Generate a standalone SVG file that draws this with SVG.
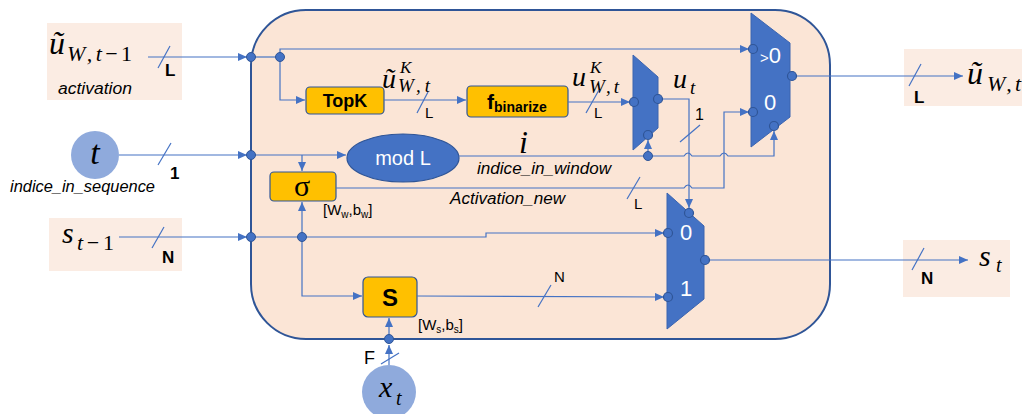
<svg xmlns="http://www.w3.org/2000/svg" width="1022" height="414" viewBox="0 0 1022 414">
<style>
.m{font-family:"Liberation Serif",serif;font-style:italic;fill:#000}
.s{font-family:"Liberation Sans",sans-serif;fill:#000}
.it{font-style:italic}
.b{font-weight:bold}
.w{fill:#fff}
.ln{fill:none;stroke:#4472c4;stroke-width:1.2}
.ar{marker-end:url(#ah)}
.sl{stroke:#4472c4;stroke-width:1.2}
.dot{fill:#4472c4;stroke:#2f5597;stroke-width:1}
.pin{fill:#4472c4;stroke:#2f5597;stroke-width:1.2}
.mux{fill:#4472c4;stroke:#3a64b0;stroke-width:1}
.box{fill:#fbece3}
.org{fill:#ffc000;stroke:#2f5597;stroke-width:1.2}
.inc{fill:#8faadc}
</style>
<defs>
<marker id="ah" markerWidth="9" markerHeight="8" refX="9" refY="4" orient="auto" markerUnits="userSpaceOnUse">
<path d="M0,0 L9,4 L0,8 z" fill="#4472c4"/>
</marker>
</defs>

<g id="frame">
<rect x="251" y="10" width="579" height="329" rx="55" ry="55" fill="#fbe5d6" stroke="#2f5597" stroke-width="2"/>
</g>

<g id="in-u">
<rect class="box" x="47" y="23" width="135" height="77"/>
<text class="m" x="49" y="54" font-size="32">ũ</text>
<text class="m" x="67" y="61" font-size="22" textLength="65" lengthAdjust="spacing">W,t<tspan font-style="normal">−1</tspan></text>
<text class="s it" x="58" y="94" font-size="16" textLength="74" lengthAdjust="spacingAndGlyphs">activation</text>
<text class="s b" x="165" y="76" font-size="17">L</text>
</g>

<g id="in-t">
<circle class="inc" cx="95" cy="155" r="24"/>
<text class="m" x="95" y="164" font-size="34" text-anchor="middle">t</text>
<text class="s it" x="10" y="192" font-size="16" textLength="145" lengthAdjust="spacingAndGlyphs">indice_in_sequence</text>
<text class="s b" x="170" y="179" font-size="17">1</text>
</g>

<g id="in-s">
<rect class="box" x="49" y="218" width="133" height="53"/>
<text class="m" x="62" y="243" font-size="30">s</text>
<text class="m" x="77" y="250" font-size="22" textLength="37" lengthAdjust="spacing">t<tspan font-style="normal">−1</tspan></text>
<text class="s b" x="162" y="263" font-size="17">N</text>
</g>

<g id="in-x">
<circle class="inc" cx="389" cy="392" r="27"/>
<text class="m" x="379" y="397" font-size="30">x</text>
<text class="m" x="396" y="405" font-size="20">t</text>
<text class="s" x="364" y="364" font-size="18">F</text>
</g>

<g id="topk">
<rect class="org" x="306" y="87" width="78" height="27" rx="4"/>
<text class="s b" x="345" y="107" font-size="18" text-anchor="middle">TopK</text>
<text class="m" x="382" y="88" font-size="28">ũ</text>
<text class="m" x="400" y="73" font-size="17">K</text>
<text class="m" x="398" y="92" font-size="19" textLength="32" lengthAdjust="spacing">W,t</text>
<text class="s" x="425" y="118" font-size="15">L</text>
</g>

<g id="fbinarize">
<rect class="org" x="467" y="86" width="101" height="31" rx="4"/>
<text class="s b" x="487" y="109" font-size="21">f<tspan font-size="14" dy="3">binarize</tspan></text>
<text class="m" x="572" y="86" font-size="28">u</text>
<text class="m" x="590" y="73" font-size="17">K</text>
<text class="m" x="589" y="93" font-size="19" textLength="30" lengthAdjust="spacing">W,t</text>
<text class="s" x="594" y="118" font-size="15">L</text>
</g>

<g id="modL">
<ellipse cx="403" cy="158" rx="56" ry="24" fill="#4472c4" stroke="#2f5597" stroke-width="1.2"/>
<text class="s w" x="403" y="165" font-size="20" text-anchor="middle">mod L</text>
<text class="m" x="519" y="153" font-size="32">i</text>
<text class="s it" x="477" y="174" font-size="16" textLength="134" lengthAdjust="spacingAndGlyphs">indice_in_window</text>
</g>

<g id="sigma">
<rect class="org" x="270" y="172" width="66" height="29" rx="4"/>
<text x="302" y="196" font-family="Liberation Serif,serif" font-size="30" text-anchor="middle">σ</text>
<text class="s" x="323" y="215" font-size="15">[W<tspan font-size="10" dy="3">w</tspan><tspan dy="-3">,b</tspan><tspan font-size="10" dy="3">w</tspan><tspan dy="-3">]</tspan></text>
<text class="s it" x="450" y="204" font-size="16" textLength="115" lengthAdjust="spacingAndGlyphs">Activation_new</text>
<text class="s" x="634" y="209" font-size="15">L</text>
</g>

<g id="S">
<rect class="org" x="363" y="277" width="54" height="40" rx="5"/>
<text class="s b" x="390" y="306" font-size="24" text-anchor="middle">S</text>
<text class="s" x="418" y="330" font-size="15">[W<tspan font-size="10" dy="3">s</tspan><tspan dy="-3">,b</tspan><tspan font-size="10" dy="3">s</tspan><tspan dy="-3">]</tspan></text>
<text class="s" x="554" y="282" font-size="15">N</text>
</g>

<g id="mux1">
<polygon class="mux" points="633,55 658,77 658,128 633,150"/>
<text class="m" x="673" y="88" font-size="28">u</text>
<text class="m" x="690" y="94" font-size="19">t</text>
<text class="s" x="695" y="120" font-size="16">1</text>
</g>

<g id="mux2">
<polygon class="mux" points="751,13 790,43 790,117 751,147"/>
<text class="s w" x="760" y="63" font-size="15">&gt;<tspan font-size="22">0</tspan></text>
<text class="s w" x="764" y="110" font-size="22">0</text>
</g>

<g id="mux3">
<polygon class="mux" points="667,193 704,226 704,299 667,329"/>
<text class="s w" x="680" y="240" font-size="22">0</text>
<text class="s w" x="680" y="296" font-size="22">1</text>
</g>

<g id="out-u">
<rect class="box" x="904" y="49" width="118" height="57"/>
<text class="m" x="967" y="84" font-size="32">ũ</text>
<text class="m" x="987" y="91" font-size="22" textLength="34" lengthAdjust="spacing">W,t</text>
<text class="s b" x="914" y="103" font-size="17">L</text>
</g>

<g id="out-s">
<rect class="box" x="903" y="240" width="107" height="57"/>
<text class="m" x="979" y="266" font-size="30">s</text>
<text class="m" x="996" y="272" font-size="20">t</text>
<text class="s b" x="921" y="284" font-size="17">N</text>
</g>

<g id="connectors">
<path class="ln ar" d="M148,57 L247,57"/>
<path class="ln ar" d="M119,155 L247,155"/>
<path class="ln ar" d="M119,237 L247,237"/>
<path class="ln" d="M251,57 L280,57"/>
<path class="ln ar" d="M280,57 L280,49 L749,49"/>
<path class="ln ar" d="M280,57 L280,100 L305,100"/>
<path class="ln ar" d="M384,100 L466,100"/>
<path class="ln ar" d="M568,102 L630,102"/>
<path class="ln ar" d="M658,99 L689,99 L689,208"/>
<path class="ln ar" d="M459,156 L684,156 q4,-6 8,0 L720,156 q4,-6 8,0 L774,156 L774,131"/>
<path class="ln ar" d="M648,156 L648,140"/>
<path class="ln ar" d="M336,188 L684,188 q4,-6 8,0 L724,188 L724,112 L749,112"/>
<path class="ln ar" d="M251,155 L346,155"/>
<path class="ln ar" d="M302,155 L302,171"/>
<path class="ln ar" d="M302,237 L302,202"/>
<path class="ln ar" d="M251,237 L486,237 L486,233 L664,233"/>
<path class="ln ar" d="M302,237 L302,296 L362,296"/>
<path class="ln ar" d="M417,296 L664,297"/>
<path class="ln ar" d="M792,76 L963,76"/>
<path class="ln ar" d="M705,260 L968,260"/>
<path class="ln ar" d="M389,365 L389,345"/>
<path class="ln ar" d="M389,339 L389,318"/>
<line class="sl" x1="158" y1="68" x2="170" y2="46"/>
<line class="sl" x1="158" y1="165" x2="171" y2="143"/>
<line class="sl" x1="152" y1="248" x2="164" y2="227"/>
<line class="sl" x1="417" y1="113" x2="428" y2="92"/>
<line class="sl" x1="586" y1="113" x2="599" y2="90"/>
<line class="sl" x1="680" y1="142" x2="700" y2="125"/>
<line class="sl" x1="627" y1="199" x2="640" y2="177"/>
<line class="sl" x1="538" y1="307" x2="551" y2="285"/>
<line class="sl" x1="381" y1="364" x2="399" y2="353"/>
<line class="sl" x1="909" y1="86" x2="921" y2="64"/>
<line class="sl" x1="912" y1="270" x2="924" y2="248"/>
<circle class="dot" cx="251" cy="57" r="4.5"/>
<circle class="dot" cx="280" cy="57" r="4.5"/>
<circle class="dot" cx="251" cy="155" r="4.5"/>
<circle class="dot" cx="251" cy="237" r="4.5"/>
<circle class="dot" cx="302" cy="237" r="4.5"/>
<circle class="dot" cx="648" cy="156" r="4.5"/>
<circle class="dot" cx="389" cy="339" r="4.5"/>
<circle class="pin" cx="634" cy="102" r="4.5"/>
<circle class="pin" cx="658" cy="99" r="4.5"/>
<circle class="pin" cx="648" cy="135" r="4.5"/>
<circle class="pin" cx="753" cy="49" r="4.5"/>
<circle class="pin" cx="753" cy="112" r="4.5"/>
<circle class="pin" cx="792" cy="76" r="4.5"/>
<circle class="pin" cx="774" cy="126" r="4.5"/>
<circle class="pin" cx="668" cy="233" r="4.5"/>
<circle class="pin" cx="668" cy="297" r="4.5"/>
<circle class="pin" cx="705" cy="260" r="4.5"/>
<circle class="pin" cx="689" cy="213" r="4.5"/>
</g>
</svg>
